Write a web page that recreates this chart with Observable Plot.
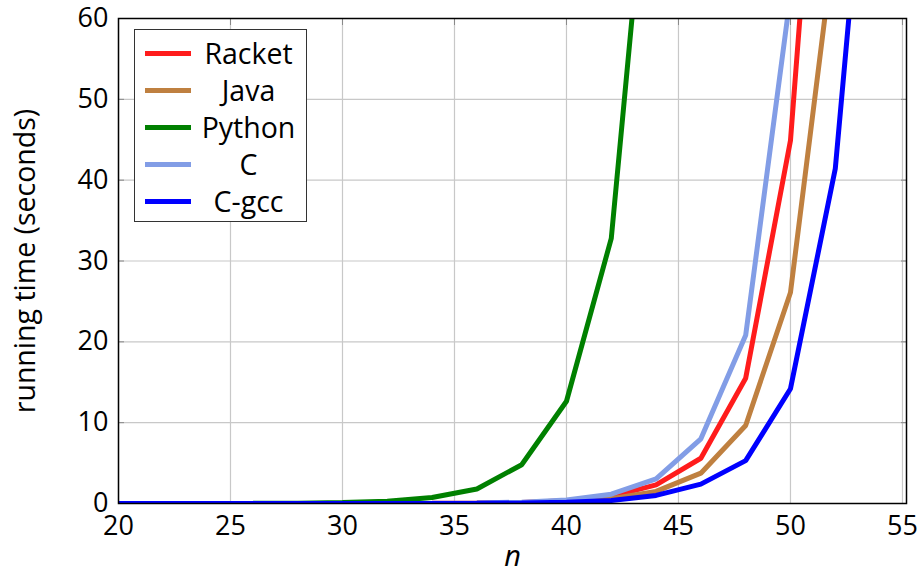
<!DOCTYPE html>
<html>
<head>
<meta charset="utf-8">
<script src="https://cdn.jsdelivr.net/npm/d3@7"></script>
<script src="https://cdn.jsdelivr.net/npm/@observablehq/plot@0.6"></script>
<style>
  html, body { margin: 0; padding: 0; background: #fff; }
  #wrap { position: relative; width: 922px; height: 573px; font-family: "Open Sans", sans-serif; }
  #legend { position: absolute; left: 134px; top: 29px; width: 173px; height: 193px; border: 1.5px solid #333; background: #fff; box-sizing: border-box; }
  .entry { position: absolute; left: 0; width: 100%; height: 30px; }
  .swatch { position: absolute; left: 10px; width: 46px; height: 5px; }
  .lbl { position: absolute; left: 56px; right: 0; text-align: center; font-size: 28.5px; line-height: 30px; color: #000; }
</style>
</head>
<body>
<div id="wrap"></div>
<script>
const series = ["Racket", "Java", "Python", "C", "C-gcc"];
const colors = ["#ff1c1c", "#bf8040", "#008000", "#829de6", "#0000ff"];

const nRacket = [20, 22, 24, 26, 28, 30, 32, 34, 36, 38, 40, 42, 44, 46, 48, 50, 52];
const racket  = [0, 0, 0, 0, 0.001, 0.003, 0.007, 0.019, 0.05, 0.13, 0.34, 0.88, 2.3, 5.6, 15.5, 44.9, 117];

const nJava = [20, 22, 24, 26, 28, 30, 32, 34, 36, 38, 40, 42, 44, 46, 48, 50, 52];
const java  = [0, 0, 0, 0, 0.001, 0.002, 0.005, 0.013, 0.034, 0.09, 0.23, 0.6, 1.5, 3.75, 9.65, 26.1, 70.4];

const nPython = [20, 22, 24, 26, 28, 30, 32, 34, 36, 38, 40, 42, 44];
const python  = [0.001, 0.002, 0.006, 0.016, 0.042, 0.11, 0.29, 0.75, 1.8, 4.8, 12.65, 32.8, 91.7];

const nC = [20, 22, 24, 26, 28, 30, 32, 34, 36, 38, 40, 42, 44, 46, 48, 50];
const cval = [0, 0, 0, 0, 0.0015, 0.004, 0.01, 0.025, 0.065, 0.17, 0.44, 1.15, 3.05, 8.0, 20.8, 62.9];

const nGcc = [20, 22, 24, 26, 28, 30, 32, 34, 36, 38, 40, 42, 44, 46, 48, 50, 52, 54];
const gcc  = [0, 0, 0, 0, 0, 0.001, 0.003, 0.008, 0.021, 0.056, 0.15, 0.38, 1.0, 2.4, 5.3, 14.2, 41.4, 103];

const xTicks = [20, 25, 30, 35, 40, 45, 50, 55];
const yTicks = [0, 10, 20, 30, 40, 50, 60];

const ns = [nRacket, nJava, nPython, nC, nGcc];
const vs = [racket, java, python, cval, gcc];
const rows = [];
series.forEach((s, i) => ns[i].forEach((n, j) => rows.push({series: s, n, t: vs[i][j]})));

const chart = Plot.plot({
  width: 922,
  height: 573,
  marginLeft: 118,
  marginRight: 16,
  marginTop: 18,
  marginBottom: 70,
  style: { fontFamily: "Open Sans, sans-serif", fontSize: "27px", color: "#000", background: "#fff", overflow: "visible" },
  x: { domain: [20, 55.18] },
  y: { domain: [0, 60] },
  color: { domain: series, range: colors },
  marks: [
    Plot.gridX(xTicks, { stroke: "#c8c8c8", strokeOpacity: 1, strokeWidth: 1.2 }),
    Plot.gridY(yTicks, { stroke: "#c8c8c8", strokeOpacity: 1, strokeWidth: 1.2 }),
    Plot.axisX(xTicks, { anchor: "top", tickSize: -6, stroke: "#888", text: null, label: null }),
    Plot.axisX(xTicks, { anchor: "bottom", tickSize: 0, tickPadding: 12, fontSize: 27, label: null }),
    Plot.axisY(yTicks, { anchor: "right", tickSize: -6, stroke: "#888", text: null, label: null }),
    Plot.axisY(yTicks, { anchor: "left", tickSize: -6, stroke: "#888", tickPadding: 16, fontSize: 27, label: null }),
    Plot.line(rows, { x: "n", y: "t", z: "series", stroke: "series", strokeWidth: 5, strokeLinejoin: "miter", clip: true }),
    Plot.frame({ stroke: "#000", strokeWidth: 1.5 }),
    Plot.text(["n"], { frameAnchor: "bottom", dy: 53, fontStyle: "italic", fontSize: 29, lineAnchor: "middle" }),
    Plot.text(["running time (seconds)"], { frameAnchor: "left", dx: -93, dy: 0, rotate: -90, fontSize: 28.5, lineAnchor: "middle", textAnchor: "middle" })
  ]
});

const wrap = document.getElementById("wrap");
wrap.appendChild(chart);

const legend = document.createElement("div");
legend.id = "legend";
series.forEach((s, i) => {
  const e = document.createElement("div");
  e.className = "entry";
  e.style.top = (8 + i * 37) + "px";
  const sw = document.createElement("div");
  sw.className = "swatch";
  sw.style.top = "12.5px";
  sw.style.background = colors[i];
  const t = document.createElement("div");
  t.className = "lbl";
  t.textContent = s;
  e.appendChild(sw);
  e.appendChild(t);
  legend.appendChild(e);
});
wrap.appendChild(legend);
</script>
</body>
</html>
